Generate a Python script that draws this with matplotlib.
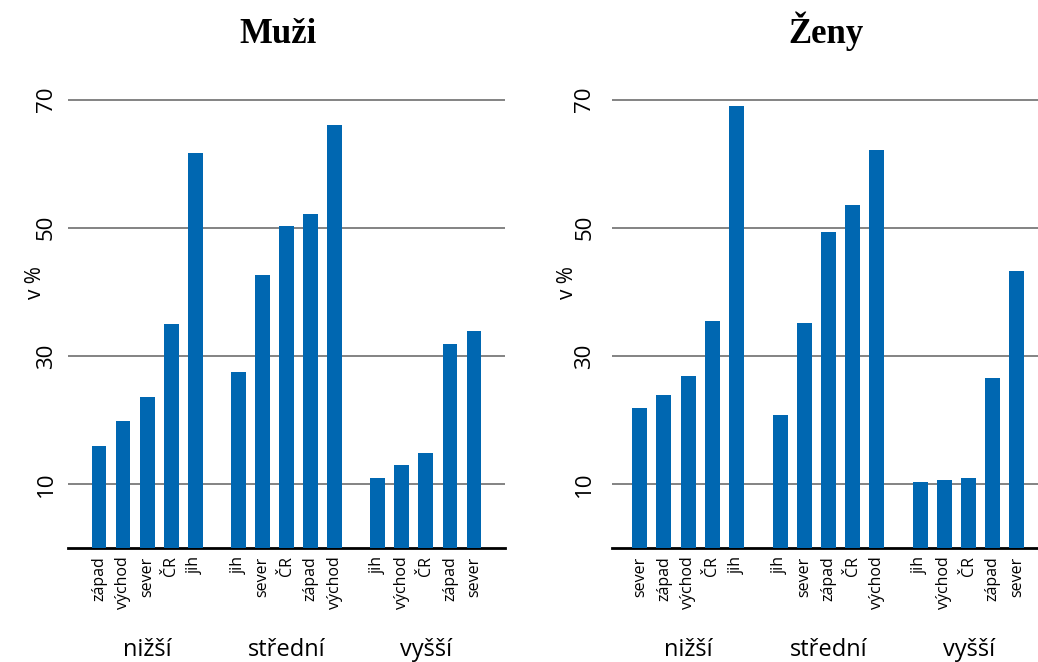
import numpy as np
import matplotlib.pyplot as plt
from matplotlib.transforms import blended_transform_factory

# Values (percent)
groups = ['nižší', 'střední', 'vyšší']

muzi_labels = [['západ', 'východ', 'sever', 'ČR', 'jih'],
               ['jih', 'sever', 'ČR', 'západ', 'východ'],
               ['jih', 'východ', 'ČR', 'západ', 'sever']]
muzi_values = [[15.9, 19.9, 23.5, 35.0, 61.6],
               [27.5, 42.6, 50.2, 52.2, 66.1],
               [10.9, 12.9, 14.9, 31.9, 33.9]]

zeny_labels = [['sever', 'západ', 'východ', 'ČR', 'jih'],
               ['jih', 'sever', 'západ', 'ČR', 'východ'],
               ['jih', 'východ', 'ČR', 'západ', 'sever']]
zeny_values = [[21.9, 23.9, 26.9, 35.4, 69.0],
               [20.8, 35.1, 49.4, 53.5, 62.2],
               [10.3, 10.6, 11.0, 26.6, 43.2]]

yticks = [10, 30, 50, 70]

BLUE = '#0067b1'
SANS = ['Open Sans', 'DejaVu Sans']
plt.rcParams['font.family'] = SANS

fig = plt.figure(figsize=(10.38, 6.62), dpi=100)
W, H = 1038, 662


def panel(rect, labels, values, title, title_x, pad_left, pad_right,
          tick_pad, label_x):
    ax = fig.add_axes(rect)
    step = 1.0
    group_gap = 5.8
    xs, names, vals, centers = [], [], [], []
    for g, (lab, val) in enumerate(zip(labels, values)):
        pos = g * group_gap + np.arange(len(val)) * step
        xs.extend(pos)
        names.extend(lab)
        vals.extend(val)
        centers.append(pos.mean())
    ax.bar(xs, vals, width=0.62, color=BLUE, zorder=3)
    ax.set_xlim(xs[0] - pad_left, xs[-1] + pad_right)
    ax.set_ylim(0, 74)
    ax.set_yticks(yticks)
    ax.set_yticklabels([str(t) for t in yticks], rotation=90, va='center',
                       fontsize=16)
    ax.yaxis.grid(True, color='#6e6e6e', linewidth=1.2)
    ax.set_axisbelow(True)
    ax.tick_params(axis='y', length=0, pad=tick_pad)
    ax.set_xticks(xs)
    ax.set_xticklabels(names, rotation=90, fontsize=11.5, va='top', ha='center')
    ax.tick_params(axis='x', length=0, pad=6)
    for s in ['top', 'right', 'left']:
        ax.spines[s].set_visible(False)
    ax.spines['bottom'].set_linewidth(2)
    ax.spines['bottom'].set_color('black')
    ax.set_ylabel('v %', fontsize=15, rotation=90)
    ax.yaxis.set_label_coords(label_x, 0.56)
    trans = blended_transform_factory(ax.transData, fig.transFigure)
    for c, g in zip(centers, groups):
        ax.text(c, 1 - 650 / H, g, transform=trans, ha='center', va='center',
                fontsize=17)
    fig.text(title_x / W, 1 - 43 / H, title, ha='center', va='baseline',
             fontsize=25, fontweight='bold', family='Liberation Serif')
    return ax


bottom = 1 - 548 / H
height = (548 - 74) / H
panel([68 / W, bottom, (505 - 68) / W, height], muzi_labels, muzi_values,
      'Muži', 278, 1.29, 1.29, 8, -0.05)
panel([612 / W, bottom, (1038 - 612) / W, height], zeny_labels, zeny_values,
      'Ženy', 826, 1.15, 0.87, 12, -0.08)

fig.savefig('out.png', dpi=100)
